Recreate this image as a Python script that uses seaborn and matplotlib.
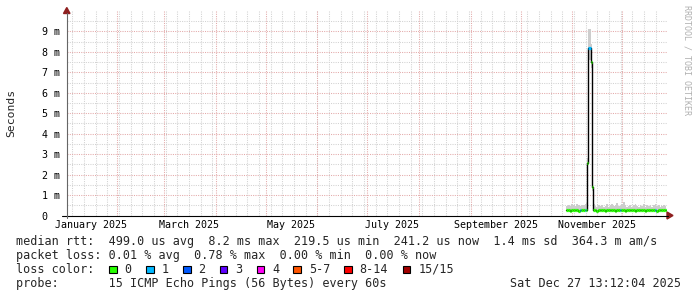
import numpy as np
import pandas as pd
import matplotlib
matplotlib.use("Agg")
import matplotlib.pyplot as plt
from matplotlib.patches import Polygon, Rectangle
import seaborn as sns

# ---------------- data ----------------
times = [
    "2025-10-28 12:00", "2025-10-29 12:00", "2025-10-30 12:00", "2025-10-31 12:00",
    "2025-11-01 12:00", "2025-11-02 12:00", "2025-11-03 12:00", "2025-11-04 12:00",
    "2025-11-05 12:00", "2025-11-06 12:00", "2025-11-07 12:00", "2025-11-08 12:00",
    "2025-11-09 12:00",
    "2025-11-10 00:00", "2025-11-10 14:00", "2025-11-12 12:00", "2025-11-13 00:00",
    "2025-11-13 14:00",
    "2025-11-14 12:00", "2025-11-15 12:00", "2025-11-16 12:00", "2025-11-17 12:00",
    "2025-11-18 12:00", "2025-11-19 12:00", "2025-11-20 12:00", "2025-11-21 12:00",
    "2025-11-22 12:00", "2025-11-23 12:00", "2025-11-24 12:00", "2025-11-25 12:00",
    "2025-11-26 12:00", "2025-11-27 12:00", "2025-11-28 12:00", "2025-11-29 12:00",
    "2025-11-30 12:00", "2025-12-01 12:00", "2025-12-02 12:00", "2025-12-03 12:00",
    "2025-12-04 12:00", "2025-12-05 12:00", "2025-12-06 12:00", "2025-12-07 12:00",
    "2025-12-08 12:00", "2025-12-09 12:00", "2025-12-10 12:00", "2025-12-11 12:00",
    "2025-12-12 12:00", "2025-12-13 12:00", "2025-12-14 12:00", "2025-12-15 12:00",
    "2025-12-16 12:00", "2025-12-17 12:00", "2025-12-18 12:00", "2025-12-19 12:00",
    "2025-12-20 12:00", "2025-12-21 12:00", "2025-12-22 12:00", "2025-12-23 12:00",
    "2025-12-24 12:00", "2025-12-25 12:00", "2025-12-26 12:00", "2025-12-27 12:00",
]
# median rtt in ms
median_ms = [
    0.25, 0.25, 0.24, 0.25, 0.26, 0.25, 0.25, 0.24, 0.25, 0.26, 0.25, 0.25, 0.26,
    2.55, 8.20, 7.50, 1.40,
    0.25,
    0.25, 0.24, 0.25, 0.25, 0.26, 0.25, 0.24, 0.25, 0.25, 0.26, 0.25, 0.25,
    0.24, 0.25, 0.25, 0.26, 0.25, 0.25, 0.24, 0.25, 0.25, 0.26, 0.25, 0.25,
    0.24, 0.25, 0.25, 0.25, 0.26, 0.25, 0.24, 0.25, 0.25, 0.25, 0.26, 0.25,
    0.25, 0.24, 0.25, 0.25, 0.25, 0.26, 0.25, 0.25,
]
# smoke (ping spread) low / high in ms
smoke_lo = [
    0.20, 0.20, 0.20, 0.20, 0.21, 0.20, 0.20, 0.20, 0.20, 0.21, 0.20, 0.20, 0.21,
    2.30, 7.60, 7.20, 1.20,
    0.20,
    0.20, 0.20, 0.20, 0.20, 0.21, 0.20, 0.20, 0.20, 0.20, 0.21, 0.20, 0.20,
    0.20, 0.20, 0.20, 0.21, 0.20, 0.20, 0.20, 0.20, 0.20, 0.21, 0.20, 0.20,
    0.20, 0.20, 0.20, 0.20, 0.21, 0.20, 0.20, 0.20, 0.20, 0.20, 0.21, 0.20,
    0.20, 0.20, 0.20, 0.20, 0.20, 0.21, 0.20, 0.20,
]
smoke_hi = [
    0.45, 0.52, 0.48, 0.55, 0.50, 0.47, 0.58, 0.50, 0.46, 0.53, 0.49, 0.55, 0.60,
    2.80, 9.10, 8.40, 1.90,
    0.55,
    0.48, 0.42, 0.50, 0.45, 0.52, 0.40, 0.47, 0.55, 0.44, 0.50, 0.58, 0.46,
    0.52, 0.62, 0.48, 0.45, 0.55, 0.65, 0.50, 0.44, 0.48, 0.53, 0.42, 0.50,
    0.57, 0.46, 0.40, 0.52, 0.48, 0.55, 0.44, 0.50, 0.46, 0.53, 0.41, 0.49,
    0.56, 0.45, 0.50, 0.43, 0.48, 0.52, 0.46, 0.44,
]
# number of lost pings (of 15) -> loss colour bucket index
loss_bucket = [
    0, 0, 0, 0, 0, 0, 0, 0, 1, 0, 0, 1, 0,
    0, 1, 0, 0,
    0,
    0, 0, 0, 0, 0, 0, 0, 0, 0, 0, 0, 0,
    0, 0, 0, 1, 0, 0, 0, 0, 0, 0, 0, 0,
    0, 0, 0, 0, 0, 0, 0, 0, 0, 0, 0, 0,
    1, 0, 0, 0, 0, 0, 0, 0,
]

loss_labels = ["0", "1", "2", "3", "4", "5-7", "8-14", "15/15"]
loss_colors = ["#26ff00", "#00b8ff", "#0059ff", "#5e00ff", "#ff00f5",
               "#ff5500", "#ff0000", "#a10000"]

y_ticks = [0, 1, 2, 3, 4, 5, 6, 7, 8, 9]
y_tick_labels = ["0", "1 m", "2 m", "3 m", "4 m", "5 m", "6 m", "7 m", "8 m", "9 m"]
x_tick_pos = ["2025-01-16", "2025-03-16", "2025-05-16", "2025-07-16",
              "2025-09-16", "2025-11-16"]
x_tick_labels = ["January 2025", "March 2025", "May 2025", "July 2025",
                 "September 2025", "November 2025"]

legend_lines = [
    "median rtt:  499.0 us avg  8.2 ms max  219.5 us min  241.2 us now  1.4 ms sd  364.3 m am/s",
    "packet loss: 0.01 % avg  0.78 % max  0.00 % min  0.00 % now",
    "loss color:",
    "probe:       15 ICMP Echo Pings (56 Bytes) every 60s",
]
stamp = "Sat Dec 27 13:12:04 2025"
x_start = "2025-01-01 13:12:04"
x_end = "2025-12-27 13:12:04"

# ---------------- style ----------------
sns.set_theme(style="white")
plt.rcParams["font.family"] = ["DejaVu Sans Mono", "DejaVu Sans"]
plt.rcParams["axes.unicode_minus"] = False

W, H = 697, 297
fig = plt.figure(figsize=(W / 100, H / 100), dpi=100)
fig.patch.set_facecolor("white")
ax = fig.add_axes([66.5 / W, (H - 215.5) / H, 600 / W, 204.5 / H])
ax.set_facecolor("white")
for s in ax.spines.values():
    s.set_visible(False)

df = pd.DataFrame({
    "time": pd.to_datetime(times),
    "median": median_ms,
    "lo": smoke_lo,
    "hi": smoke_hi,
    "loss": loss_bucket,
})
t0 = pd.Timestamp(x_start)
t1 = pd.Timestamp(x_end)

# grid
dot = (0, (1, 1.2))
for y in np.arange(0.5, 10, 0.5):
    if abs(y - round(y)) > 1e-6:
        ax.axhline(y, color="#d2d2d2", lw=0.75, ls=dot, zorder=0)
for wk in pd.date_range("2025-01-05", "2025-12-27", freq="W-SUN"):
    ax.axvline(wk, color="#d2d2d2", lw=0.75, ls=dot, zorder=0)
for y in range(1, 10):
    ax.axhline(y, color="#e3a9a9", lw=0.75, ls=dot, zorder=0.5)
for m in pd.date_range("2025-02-01", "2025-12-01", freq="MS"):
    ax.axvline(m, color="#e3a9a9", lw=0.75, ls=dot, zorder=0.5)

# smoke
ax.fill_between(df["time"], df["lo"], df["hi"], step="post",
                color="#cdcdcd", lw=0, zorder=1)

# median line
sns.lineplot(data=df, x="time", y="median", ax=ax, color="black", lw=1.0,
             drawstyle="steps-post", zorder=2, legend=False)

# loss coloured median band
ends = list(df["time"].iloc[1:]) + [df["time"].iloc[-1] + pd.Timedelta(hours=12)]
ax.hlines(df["median"], df["time"], ends,
          colors=[loss_colors[b] for b in df["loss"]], lw=2.3, zorder=3)

ax.set_xlim(t0, t1)
ax.set_ylim(0, 10)
ax.set_xlabel("")
ax.set_ylabel("")
ax.set_yticks(y_ticks)
ax.set_yticklabels(y_tick_labels)
ax.set_xticks(pd.to_datetime(x_tick_pos))
ax.set_xticklabels(x_tick_labels)
ax.tick_params(axis="both", length=0, labelsize=7.2, colors="black")
ax.tick_params(axis="x", pad=3)
ax.tick_params(axis="y", pad=18)
for lab in ax.get_yticklabels():
    lab.set_horizontalalignment("left")
ax.grid(False)

# axes lines & arrows (pixel coordinates)
def fx(px):
    return px / W

def fy(py):
    return 1 - py / H

fig.add_artist(plt.Line2D([fx(62), fx(668)], [fy(215.5), fy(215.5)],
                          color="black", lw=0.8, transform=fig.transFigure))
fig.add_artist(plt.Line2D([fx(66.8), fx(66.8)], [fy(218), fy(13)],
                          color="#666666", lw=0.8, transform=fig.transFigure))
arrow_col = "#8e1f1f"
fig.add_artist(Polygon([[fx(667), fy(212)], [fx(667), fy(219)], [fx(673), fy(215.5)]],
                       closed=True, color=arrow_col, transform=fig.transFigure))
fig.add_artist(Polygon([[fx(63.5), fy(13.5)], [fx(70), fy(13.5)], [fx(66.8), fy(7.5)]],
                       closed=True, color=arrow_col, transform=fig.transFigure))

# labels
fig.text(fx(11.5), fy(113), "Seconds", rotation=90, ha="center", va="center",
         fontsize=8.2)
fig.text(fx(687), fy(5), "RRDTOOL / TOBI OETIKER", rotation=270, ha="center",
         va="top", fontsize=6, color="#b0b0b0")

line_y = [241.5, 255.2, 269.3, 283.3]
for txt, y in zip(legend_lines, line_y):
    fig.text(fx(16), fy(y), txt, ha="left", va="center", fontsize=8.5)

box_x = [109, 146, 183, 219.5, 256.5, 293.3, 344, 402.7]
for bx, col, lab in zip(box_x, loss_colors, loss_labels):
    fig.add_artist(Rectangle((fx(bx), fy(273)), 7.5 / W, 7.5 / H, facecolor=col,
                             edgecolor="black", lw=0.8, transform=fig.transFigure))
    fig.text(fx(bx + 15.5), fy(269.3), lab, ha="left", va="center", fontsize=8.5)

fig.text(fx(680.5), fy(283.3), stamp, ha="right", va="center", fontsize=8.5)

fig.savefig("out.png", dpi=100, facecolor="white")
